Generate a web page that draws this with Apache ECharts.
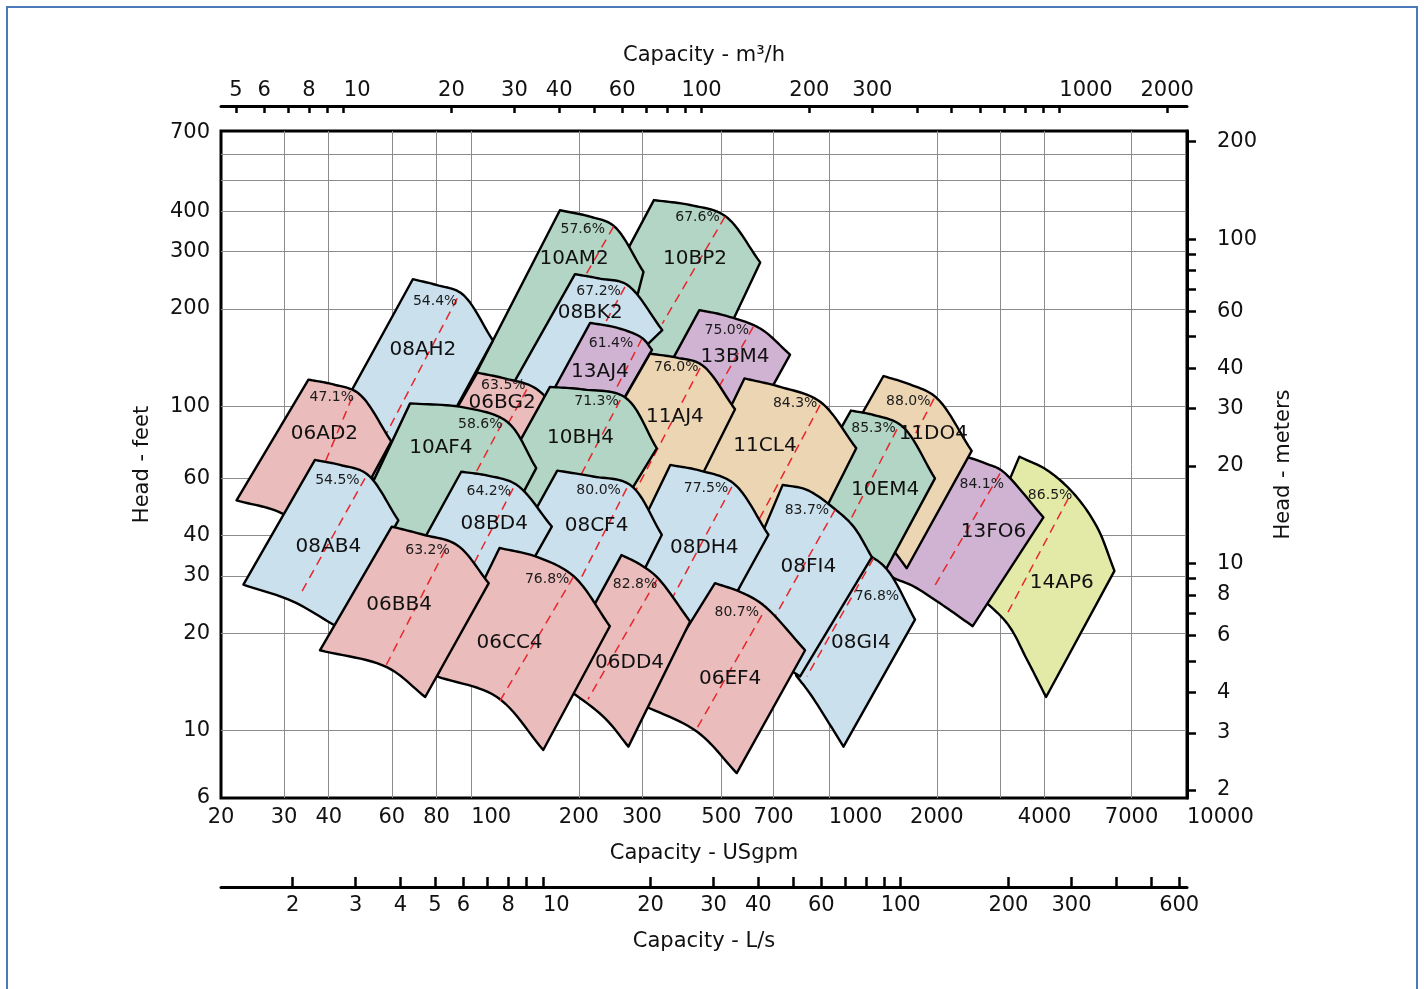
<!DOCTYPE html>
<html>
<head>
<meta charset="utf-8">
<title>Pump selection chart</title>
<script src="https://cdn.jsdelivr.net/npm/echarts@6/dist/echarts.min.js"></script>
<style>
  html, body { margin: 0; padding: 0; background: #fff; }
  #chart { width: 1424px; height: 989px; }
</style>
</head>
<body>
<div id="chart"></div>
<script>
// ---- axis values (real units) ----
var gpmLabels = [20, 30, 40, 60, 80, 100, 200, 300, 500, 700, 1000, 2000, 4000, 7000, 10000];
var gpmGrid = [30, 40, 60, 80, 100, 200, 300, 500, 700, 1000, 2000, 3000, 4000, 7000];
var feetLabels = [6, 10, 20, 30, 40, 60, 100, 200, 300, 400, 700];
var feetGrid = [10, 20, 30, 40, 60, 100, 200, 300, 400, 500, 600];
var m3hTicks = [5, 6, 7, 8, 9, 10, 20, 30, 40, 50, 60, 70, 80, 90, 100, 200, 300, 400, 500, 600, 700, 800, 900, 1000, 2000];
var m3hLabels = [5, 6, 8, 10, 20, 30, 40, 60, 100, 200, 300, 1000, 2000];
var lsTicks = [2, 3, 4, 5, 6, 7, 8, 9, 10, 20, 30, 40, 50, 60, 70, 80, 90, 100, 200, 300, 400, 500, 600];
var lsLabels = [2, 3, 4, 5, 6, 8, 10, 20, 30, 40, 60, 100, 200, 300, 600];
var meterTicks = [2, 3, 4, 5, 6, 7, 8, 9, 10, 20, 30, 40, 50, 60, 70, 80, 90, 100, 200];
var meterLabels = [2, 3, 4, 6, 8, 10, 20, 30, 40, 60, 100, 200];

var X_MIN = 20, X_MAX = 10000;     // USgpm
var Y_MIN = 6.2, Y_MAX = 707;      // feet (frame edges)
var GPM_TO_M3H = 0.22712, GPM_TO_LS = 0.0630902, FT_TO_M = 0.3048;

// ---- pump ranges, in drawing order (first = bottom) ----
var models = ['14AP6', '13FO6', '11DO4', '10EM4', '08GI4', '10BP2', '13BM4', '11CL4', '08FI4', '10AM2',
  '08BK2', '13AJ4', '08AH2', '06BG2', '11AJ4', '10BH4', '08DH4', '06EF4', '06AD2', '10AF4',
  '08CF4', '06DD4', '08BD4', '06CC4', '08AB4', '06BB4'];

var efficiencies = ['86.5%', '84.1%', '88.0%', '85.3%', '76.8%', '67.6%', '75.0%', '84.3%', '83.7%', '57.6%',
  '67.2%', '61.4%', '54.4%', '63.5%', '76.0%', '71.3%', '77.5%', '80.7%', '47.1%', '58.6%',
  '80.0%', '82.8%', '64.2%', '76.8%', '54.5%', '63.2%'];

// max-diameter head curve, [USgpm, feet], left to right
var topCurves = [
  [[3401, 70.0], [4057, 63.7], [4815, 54.0], [5598, 42.6], [6270, 31.1]],
  [[2352, 70.8], [2757, 66.5], [3037, 63.4], [3970, 45.5]],
  [[1419, 124.1], [1683, 116.9], [1989, 106.7], [2503, 72.9]],
  [[1151, 97.1], [1331, 94.1], [1596, 87.1], [1976, 60.0]],
  [[1109, 36.6], [1317, 34.3], [1462, 31.1], [1738, 22.0]],
  [[324, 432.9], [409, 417.9], [512, 386.8], [642, 278.1]],
  [[434, 198.2], [507, 191.2], [642, 173.9], [778, 144.4]],
  [[580, 122.0], [730, 114.9], [944, 103.4], [1191, 74.3]],
  [[742, 57.3], [867, 55.3], [1039, 48.2], [1170, 42.6], [1317, 34.3]],
  [[177, 402.8], [215, 384.8], [250, 360.7], [303, 259.9]],
  [[195, 255.9], [229, 247.8], [272, 237.7], [342, 171.9]],
  [[215, 181.0], [255, 174.9], [300, 162.7], [320, 149.5]],
  [[68.7, 246.8], [80.2, 236.7], [94.2, 222.6], [115, 159.7]],
  [[104, 127.1], [124, 122.0], [151, 113.9], [183, 90.9]],
  [[316, 145.5], [375, 141.4], [441, 134.3], [546, 98.0]],
  [[166, 114.9], [206, 112.8], [269, 106.7], [330, 74.3]],
  [[360, 66.0], [436, 63.4], [540, 58.0], [677, 40.2]],
  [[480, 28.5], [564, 26.8], [655, 24.4], [857, 17.7]],
  [[35.1, 121.0], [41.2, 116.9], [48.4, 109.8], [59.8, 78.0]],
  [[67.5, 102.2], [95.2, 99.3], [126, 89.7], [152, 64.5]],
  [[174, 63.4], [219, 60.8], [278, 57.3], [341, 40.2]],
  [[263, 34.8], [293, 32.8], [330, 29.8], [409, 21.7]],
  [[93.8, 62.9], [112, 61.1], [134, 57.3], [168, 42.6]],
  [[120, 36.6], [152, 34.4], [193, 30.0], [244, 21.0]],
  [[36.6, 68.4], [43, 66.0], [51.1, 61.9], [62.6, 44.5]],
  [[60, 42.6], [73.6, 40.2], [91.2, 37.4], [112, 28.5]]
];

// min-diameter head curve, [USgpm, feet], right to left
var bottomCurves = [
  [[4039, 12.7], [3568, 16.6], [3136, 21.5], [2398, 28.2]],
  [[2519, 21.0], [2042, 24.7], [1719, 27.9], [1498, 29.8], [1371, 32.2]],
  [[1648, 31.7], [1530, 35.4], [1261, 46.3], [1007, 63.7]],
  [[1299, 25.4], [1007, 33.7], [773, 44.7]],
  [[1097, 8.93], [986, 10.8], [885, 13.0], [809, 14.8]],
  [[450, 121.0], [296, 134.3], [201, 160.7]],
  [[617, 90.9], [450, 101.1], [323, 108.7]],
  [[830, 33.7], [564, 38.8], [374, 44.7]],
  [[830, 14.7], [662, 17.1], [487, 19.1]],
  [[229, 78.9], [146, 83.5], [88.5, 90.9]],
  [[215, 104.7], [161, 96.2], [115, 90.9]],
  [[238, 84.6], [199, 94.1], [164, 104.7]],
  [[68, 55.3], [47.4, 62.8], [37.3, 72.4]],
  [[124, 63.7], [106, 67.5], [78.3, 73.4]],
  [[376, 43.1], [278, 46.3], [191, 55.3]],
  [[249, 44.7], [166, 47.2], [111, 51.5]],
  [[467, 19.1], [337, 21.2], [237, 25.4]],
  [[552, 7.40], [427, 9.94], [296, 12.1]],
  [[40.9, 36.1], [29.6, 46.8], [22.1, 51.3]],
  [[119, 38.8], [72, 32.4], [47.4, 44.7]],
  [[259, 22.0], [177, 26.1], [118, 29.2]],
  [[275, 8.93], [234, 11.05], [170, 14.4]],
  [[129, 25.4], [96.2, 30.2], [68.7, 33.7]],
  [[159, 8.72], [118, 12.7], [80.2, 14.7]],
  [[42.5, 20.8], [31.6, 25.1], [23.1, 28.2]],
  [[74.4, 12.7], [58.1, 15.7], [37.8, 17.7]]
];

// best efficiency line, [top, bottom]
var bepLines = [
  [[4663, 52.1], [3122, 22.6]], [[3004, 62.2], [1955, 27.5]], [[1964, 105.7], [1302, 44.7]],
  [[1547, 85.0], [1007, 33.7]], [[1331, 34.0], [867, 14.7]], [[512, 384.8], [342, 180.0]],
  [[614, 175.9], [436, 90.9]], [[944, 101.1], [564, 34.8]], [[1039, 48.0], [582, 15.4]],
  [[250, 358.6], [177, 185.1]], [[269, 233.7], [208, 139.3]], [[300, 161.7], [229, 90.9]],
  [[91.4, 215.5], [53.9, 70.8]], [[143, 112.8], [124, 84.6]], [[436, 131.2], [261, 44.7]],
  [[261, 104.7], [177, 46.3]], [[535, 56.5], [316, 19.1]], [[649, 22.7], [422, 9.94]],
  [[46.5, 106.7], [34.4, 48.0]], [[122, 88.7], [81.9, 38.8]], [[272, 55.9], [177, 22.0]],
  [[330, 29.2], [212, 12.5]], [[131, 55.9], [90.2, 25.4]], [[193, 29.8], [120, 12.3]],
  [[50.5, 60.0], [33.6, 26.8]], [[84.6, 36.1], [57.5, 15.7]]
];

var effLabelAt = [
  [4145, 53.3], [2670, 57.3], [1665, 103.4], [1331, 85.6], [1360, 25.9], [429, 381.8], [518, 171.9],
  [804, 102.3], [867, 47.7], [205, 351.6], [227, 225.6], [246, 156.7], [79.3, 211.4], [123, 115.9],
  [374, 132.2], [224, 103.4], [453, 55.9], [552, 23.1], [40.8, 106.3], [106, 88.3], [227, 55.0],
  [287, 28.3], [112, 54.9], [163, 29.2], [42.3, 59.0], [75.5, 36.1]
];

var nameLabelAt = [
  [4469, 28.6], [2878, 41.1], [1955, 82.6], [1434, 55.3], [1227, 18.6], [422, 286.2], [546, 142.4],
  [662, 75.6], [875, 32.1], [194, 286.2], [215, 194.2], [229, 128.1], [73.3, 149.5], [122, 102.6],
  [371, 93.0], [202, 79.8], [448, 36.7], [529, 14.5], [38.9, 82.1], [82.3, 74.6], [224, 42.8],
  [277, 16.2], [116, 43.6], [128, 18.7], [39.9, 37.0], [62.9, 24.4]
];

// ---- styling ----
var FONT = "'DejaVu Sans', 'Liberation Sans', Arial, sans-serif";
var LABEL_SIZE = 21;
var familyColors = {
  '06': '#ebbcbc',
  '08': '#cbe0ed',
  '10': '#b3d5c5',
  '11': '#ecd5b3',
  '13': '#d0b2d3',
  '14': '#e3eaa7'
};

var lg = Math.log10;
function fmt(v) { return String(Math.round(Math.pow(10, v))); }

// some labels in the reference start at their tick instead of being centred on it
function tickFormatter(startAtTick) {
  return function (v) {
    var s = fmt(v);
    return startAtTick.indexOf(s) >= 0 ? '{s' + s.length + '|' + s + '}' : s;
  };
}
function padRich() {
  var rich = {};
  [2, 3, 4].forEach(function (n) {
    rich['s' + n] = {
      fontSize: LABEL_SIZE, fontFamily: FONT, color: '#111',
      padding: [0, 0, 0, Math.round(n * 0.636 * LABEL_SIZE)]
    };
  });
  return rich;
}

// centripetal catmull-rom through pixel points
function smooth(pts) {
  var n = pts.length;
  if (n < 3) return pts.slice();
  var ext = [[2 * pts[0][0] - pts[1][0], 2 * pts[0][1] - pts[1][1]]].concat(pts,
    [[2 * pts[n - 1][0] - pts[n - 2][0], 2 * pts[n - 1][1] - pts[n - 2][1]]]);
  function knot(a, b) { return Math.pow(Math.hypot(b[0] - a[0], b[1] - a[1]), 0.5) || 1e-6; }
  function mix(a, b, ta, tb, t) {
    var w = (t - ta) / (tb - ta);
    return [a[0] + (b[0] - a[0]) * w, a[1] + (b[1] - a[1]) * w];
  }
  var out = [];
  for (var k = 1; k < ext.length - 2; k++) {
    var p0 = ext[k - 1], p1 = ext[k], p2 = ext[k + 1], p3 = ext[k + 2];
    var t0 = 0, t1 = t0 + knot(p0, p1), t2 = t1 + knot(p1, p2), t3 = t2 + knot(p2, p3);
    for (var s = 0; s < 12; s++) {
      var t = t1 + (t2 - t1) * s / 12;
      var a1 = mix(p0, p1, t0, t1, t), a2 = mix(p1, p2, t1, t2, t), a3 = mix(p2, p3, t2, t3, t);
      var b1 = mix(a1, a2, t0, t2, t), b2 = mix(a2, a3, t1, t3, t);
      out.push(mix(b1, b2, t1, t2, t));
    }
  }
  out.push(pts[n - 1]);
  return out;
}

function renderPump(params, api) {
  var i = params.dataIndex;
  var toPx = function (p) { return api.coord([lg(p[0]), lg(p[1])]); };
  var outline = smooth(topCurves[i].map(toPx)).concat(smooth(bottomCurves[i].map(toPx)));
  var dash = bepLines[i].map(toPx);
  var eff = toPx(effLabelAt[i]);
  var nm = toPx(nameLabelAt[i]);
  return {
    type: 'group',
    children: [
      {
        type: 'polygon', z2: i * 3,
        shape: { points: outline },
        style: { fill: familyColors[models[i].slice(0, 2)], stroke: '#000', lineWidth: 2.4, lineJoin: 'round' }
      },
      {
        type: 'line', z2: i * 3 + 1,
        shape: { x1: dash[0][0], y1: dash[0][1], x2: dash[1][0], y2: dash[1][1] },
        style: { stroke: '#e8262b', lineWidth: 1.5, lineDash: [9, 6] }
      },
      {
        type: 'text', z2: 1000 + i, x: eff[0], y: eff[1],
        style: { text: efficiencies[i], fontSize: 14, fontFamily: FONT, fill: '#1a1a1a', align: 'center', verticalAlign: 'middle' }
      },
      {
        type: 'text', z2: 1100 + i, x: nm[0], y: nm[1],
        style: { text: models[i], fontSize: 20, fontFamily: FONT, fill: '#111', align: 'center', verticalAlign: 'middle' }
      }
    ]
  };
}

var labelStyle = { fontSize: LABEL_SIZE, fontFamily: FONT, color: '#111' };
var nameStyle = { fontSize: 21, fontFamily: FONT, color: '#111' };

var chart = echarts.init(document.getElementById('chart'), null, { renderer: 'canvas' });
chart.setOption({
  animation: false,
  backgroundColor: '#fff',
  graphic: [{
    type: 'rect', silent: true,
    shape: { x: 7, y: 7, width: 1410, height: 1000 },
    style: { fill: 'none', stroke: '#4b78b6', lineWidth: 2 }
  }],
  grid: {
    left: 221, right: 237, top: 131, bottom: 191,
    show: true, borderColor: '#000', borderWidth: 3, backgroundColor: 'transparent'
  },
  xAxis: [
    {
      type: 'value', position: 'bottom', min: lg(X_MIN), max: lg(X_MAX),
      axisLine: { show: false },
      axisTick: { show: false, customValues: gpmGrid.map(lg) },
      axisLabel: Object.assign({
        customValues: gpmLabels.map(lg), formatter: tickFormatter(['100', '1000']),
        rich: padRich(), margin: 9, alignMaxLabel: 'left'
      }, labelStyle),
      splitLine: { show: true, lineStyle: { color: '#8c8c8c', width: 1 } },
      name: 'Capacity - USgpm', nameLocation: 'middle', nameGap: 45, nameTextStyle: nameStyle
    },
    {
      type: 'value', position: 'top', offset: 25,
      min: lg(X_MIN * GPM_TO_M3H), max: lg(X_MAX * GPM_TO_M3H),
      axisLine: { show: true, onZero: false, lineStyle: { color: '#000', width: 3 } },
      axisTick: { show: true, inside: true, length: 7, customValues: m3hTicks.map(lg), lineStyle: { color: '#000', width: 2.5 } },
      axisLabel: Object.assign({
        customValues: m3hLabels.map(lg), formatter: tickFormatter(['10', '1000']),
        rich: padRich(), margin: 5
      }, labelStyle),
      splitLine: { show: false },
      name: 'Capacity - m³/h', nameLocation: 'middle', nameGap: 40, nameTextStyle: nameStyle
    },
    {
      type: 'value', position: 'bottom', offset: 89,
      min: lg(X_MIN * GPM_TO_LS), max: lg(X_MAX * GPM_TO_LS),
      axisLine: { show: true, onZero: false, lineStyle: { color: '#000', width: 3 } },
      axisTick: { show: true, inside: true, length: 10, customValues: lsTicks.map(lg), lineStyle: { color: '#000', width: 2.5 } },
      axisLabel: Object.assign({
        customValues: lsLabels.map(lg), formatter: tickFormatter(['10']),
        rich: padRich(), margin: 8
      }, labelStyle),
      splitLine: { show: false },
      name: 'Capacity - L/s', nameLocation: 'middle', nameGap: 44, nameTextStyle: nameStyle
    }
  ],
  yAxis: [
    {
      type: 'value', position: 'left', min: lg(Y_MIN), max: lg(Y_MAX),
      axisLine: { show: false },
      axisTick: { show: false, customValues: feetGrid.map(lg) },
      // the reference prints "6" at the bottom edge of the frame
      axisLabel: Object.assign({ customValues: feetLabels.map(function (v) { return lg(Math.max(v, Y_MIN)); }), formatter: fmt, margin: 11 }, labelStyle),
      splitLine: { show: true, lineStyle: { color: '#8c8c8c', width: 1 } },
      name: 'Head - feet', nameLocation: 'middle', nameGap: 68, nameRotate: 90, nameTextStyle: nameStyle
    },
    {
      type: 'value', position: 'right',
      min: lg(Y_MIN * FT_TO_M), max: lg(Y_MAX * FT_TO_M),
      axisLine: { show: true, onZero: false, lineStyle: { color: '#000', width: 3 } },
      axisTick: { show: true, inside: false, length: 9, customValues: meterTicks.map(lg), lineStyle: { color: '#000', width: 2.5 } },
      axisLabel: Object.assign({ customValues: meterLabels.map(lg), formatter: fmt, margin: 30 }, labelStyle),
      splitLine: { show: false },
      name: 'Head - meters', nameLocation: 'middle', nameGap: 86, nameRotate: 90, nameTextStyle: nameStyle
    }
  ],
  series: [{
    type: 'custom',
    xAxisIndex: 0, yAxisIndex: 0,
    renderItem: renderPump,
    data: models.map(function (m, i) { return [lg(topCurves[i][0][0]), lg(topCurves[i][0][1])]; }),
    encode: { x: 0, y: 1 },
    clip: false,
    silent: true
  }]
});
</script>
</body>
</html>
